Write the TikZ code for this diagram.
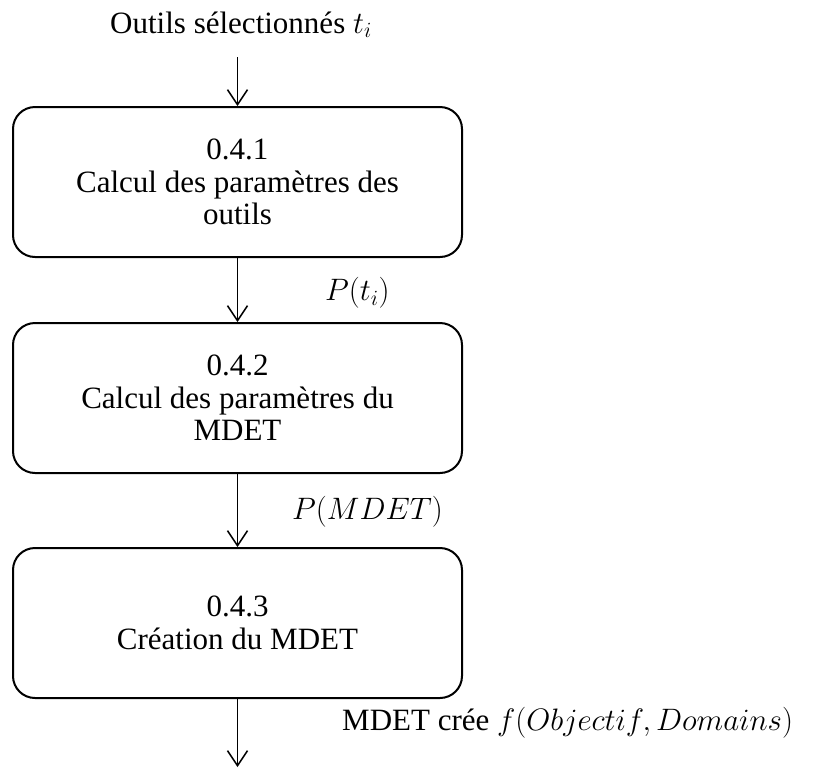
\RequirePackage{fix-cm}
\documentclass[tikz,border=0pt]{standalone}
\usepackage{fontspec}
\setmainfont{Liberation Serif}
\usetikzlibrary{arrows.meta}
\begin{document}
\begin{tikzpicture}[x=1pt,y=-1pt,
  stepbox/.style={draw, line width=2pt, rounded corners=22pt, minimum width=449pt, minimum height=150pt, align=center, inner sep=0pt, font=\fontsize{31}{32.5}\selectfont},
  flow/.style={line width=1.5pt, -{Straight Barb[length=15pt,width=20pt,line width=1.5pt]}},
  lbl/.style={font=\fontsize{31}{32.5}\selectfont, inner sep=0pt, anchor=west}]
\useasboundingbox (0,0) rectangle (815,769);
\node[stepbox] (b1) at (237.5,182) {0.4.1\\Calcul des paramètres des\\outils};
\node[stepbox] (b2) at (237.5,398) {0.4.2\\Calcul des paramètres du\\MDET};
\node[stepbox] (b3) at (237.5,623) {0.4.3\\Création du MDET};
\node[lbl, anchor=base] (in) at (241,33) {Outils sélectionnés $t_i$};
\coordinate (top) at (237.5,57);
\coordinate (bot) at (237.5,767);
\draw[flow] (top) -- (b1);
\draw[flow] (b1) -- (b2);
\draw[flow] (b2) -- (b3);
\draw[flow] (b3) -- (bot);
\node[lbl] (l1) at (325,293) {$P(t_i)$};
\node[lbl] (l2) at (292,512) {$P(MDET)$};
\node[lbl] (l3) at (342,723) {MDET crée $f(Objectif, Domains)$};
\end{tikzpicture}
\end{document}
